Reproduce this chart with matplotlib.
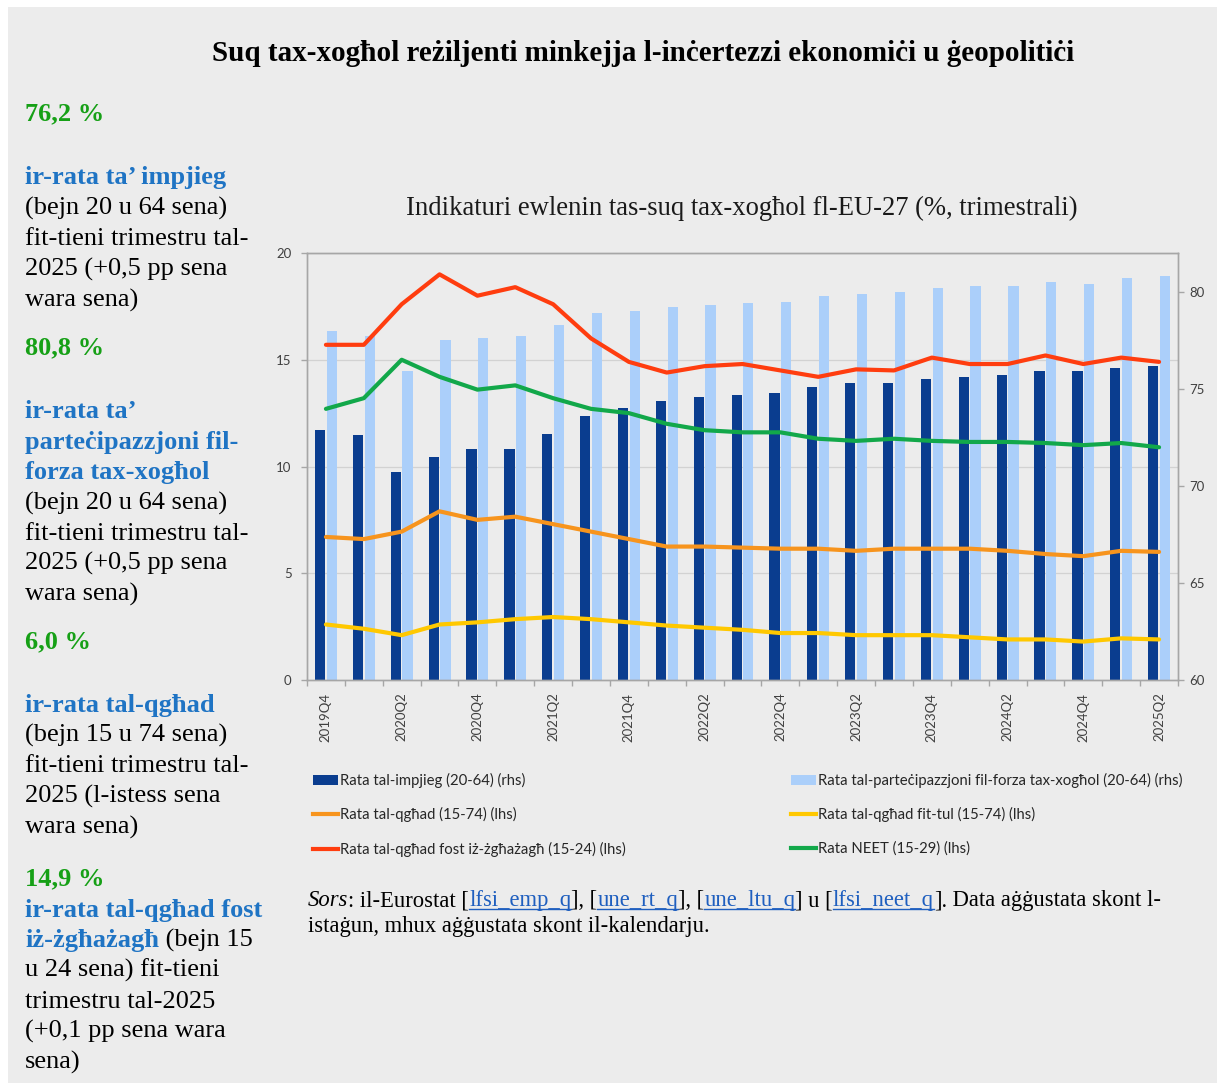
import matplotlib
matplotlib.use('Agg')
import matplotlib.pyplot as plt
from matplotlib.lines import Line2D
from matplotlib.patches import Patch, Rectangle
from matplotlib.transforms import blended_transform_factory
import numpy as np

# ---------------- data ----------------
quarters = ['2019Q4', '2020Q1', '2020Q2', '2020Q3', '2020Q4', '2021Q1', '2021Q2', '2021Q3',
            '2021Q4', '2022Q1', '2022Q2', '2022Q3', '2022Q4', '2023Q1', '2023Q2', '2023Q3',
            '2023Q4', '2024Q1', '2024Q2', '2024Q3', '2024Q4', '2025Q1', '2025Q2']
employment = [72.9, 72.6, 70.7, 71.5, 71.9, 71.9, 72.7, 73.6, 74.0, 74.4, 74.6, 74.7,
              74.8, 75.1, 75.3, 75.3, 75.5, 75.6, 75.7, 75.9, 75.9, 76.1, 76.2]
participation = [78.0, 77.7, 75.9, 77.5, 77.6, 77.7, 78.3, 78.9, 79.0, 79.2, 79.3, 79.4,
                 79.5, 79.8, 79.9, 80.0, 80.2, 80.3, 80.3, 80.5, 80.4, 80.7, 80.8]
unemployment = [6.7, 6.6, 6.95, 7.9, 7.5, 7.65, 7.3, 6.95, 6.6, 6.25, 6.25, 6.2,
                6.15, 6.15, 6.05, 6.15, 6.15, 6.15, 6.05, 5.9, 5.8, 6.05, 6.0]
long_term = [2.6, 2.4, 2.1, 2.6, 2.7, 2.85, 2.95, 2.85, 2.7, 2.55, 2.45, 2.35,
             2.2, 2.2, 2.1, 2.1, 2.1, 2.0, 1.9, 1.9, 1.8, 1.95, 1.9]
youth = [15.7, 15.7, 17.6, 19.0, 18.0, 18.4, 17.6, 16.0, 14.9, 14.4, 14.7, 14.8,
         14.5, 14.2, 14.55, 14.5, 15.1, 14.8, 14.8, 15.2, 14.8, 15.1, 14.9]
neet = [12.7, 13.2, 15.0, 14.2, 13.6, 13.8, 13.2, 12.7, 12.5, 12.0, 11.7, 11.6,
        11.6, 11.3, 11.2, 11.3, 11.2, 11.15, 11.15, 11.1, 11.0, 11.1, 10.9]

labels = ['Rata tal-impjieg (20-64) (rhs)',
          'Rata tal-qgħad (15-74) (lhs)',
          'Rata tal-qgħad fost iż-żgħażagħ (15-24) (lhs)',
          'Rata tal-parteċipazzjoni fil-forza tax-xogħol (20-64) (rhs)',
          'Rata tal-qgħad fit-tul (15-74) (lhs)',
          'Rata NEET (15-29) (lhs)']
left_ticks = [0, 5, 10, 15, 20]
right_ticks = [60, 65, 70, 75, 80]

title = 'Suq tax-xogħol reżiljenti minkejja l-inċertezzi ekonomiċi u ġeopolitiċi'
chart_title = 'Indikaturi ewlenin tas-suq tax-xogħol fl-EU-27 (%, trimestrali)'

# ---------------- styles ----------------
W, H = 1217, 1083
BG = '#ececec'
C_EMP = '#0a3d8f'
C_PART = '#abcffa'
C_UNEMP = '#f7941d'
C_LTU = '#ffc800'
C_YOUTH = '#ff3d0f'
C_NEET = '#12a84a'
GREEN = '#16a016'
BLUE = '#1f74c4'
SERIF = 'Liberation Serif'
SANS = 'Lato'

fig = plt.figure(figsize=(W / 100, H / 100), dpi=100, facecolor='white')
fig.patches.append(Rectangle((8 / W, 0), 1, 1 - 7 / H, transform=fig.transFigure,
                             facecolor=BG, edgecolor='none', zorder=-10))

def fx(x):
    return x / W

def fy(y):
    return 1 - y / H

# axes
rect = [fx(307), fy(680), (1178 - 307) / W, (680 - 253) / H]
ax_b = fig.add_axes(rect)          # bars, right scale
ax_l = ax_b.twinx()                 # lines, left scale
ax_l.yaxis.tick_left()
ax_l.yaxis.set_label_position('left')
ax_b.yaxis.tick_right()
ax_b.set_facecolor('none')
ax_l.set_facecolor('none')

x = np.arange(len(quarters))
bw = 0.27
ax_b.bar(x - 0.155, employment, width=bw, color=C_EMP, zorder=2)
ax_b.bar(x + 0.155, participation, width=bw, color=C_PART, zorder=2)
ax_b.set_ylim(60, 82)
ax_b.set_xlim(-0.5, len(quarters) - 0.5)
ax_l.set_ylim(0, 20)

# gridlines (left scale) behind bars
tr = blended_transform_factory(ax_b.transAxes, ax_l.transData)
for v in left_ticks[1:]:
    ax_b.plot([0, 1], [v, v], transform=tr, color='#d2d2d2', lw=0.9, zorder=0)

lw = 3.0
ax_l.plot(x, unemployment, color=C_UNEMP, lw=lw, solid_capstyle='round')
ax_l.plot(x, long_term, color=C_LTU, lw=lw, solid_capstyle='round')
ax_l.plot(x, youth, color=C_YOUTH, lw=lw, solid_capstyle='round')
ax_l.plot(x, neet, color=C_NEET, lw=lw, solid_capstyle='round')

tick_col = '#404040'
spine_col = '#a6a6a6'
ax_l.set_yticks(left_ticks)
ax_l.set_yticklabels([str(v) for v in left_ticks])
ax_b.set_yticks(right_ticks)
ax_b.set_yticklabels([str(v) for v in right_ticks])
for a in (ax_b, ax_l):
    for s in a.spines.values():
        s.set_color(spine_col)
        s.set_linewidth(1.0)
ax_l.tick_params(axis='y', labelsize=9.5, colors=tick_col, length=4, width=1.0, pad=7,
                 color=spine_col)
ax_b.tick_params(axis='y', labelsize=9.5, colors=tick_col, length=4, width=1.0, pad=4,
                 color=spine_col)
for t in ax_l.get_yticklabels() + ax_b.get_yticklabels():
    t.set_fontfamily(SANS)
    t.set_color(tick_col)

ax_b.set_xticks(x[::2])
ax_b.set_xticklabels(quarters[::2], rotation=90, fontfamily=SANS, fontsize=9.5, color=tick_col)
ax_b.set_xticks(np.arange(-0.5, len(quarters), 1), minor=True)
ax_b.tick_params(axis='x', which='major', length=0, pad=9)
ax_b.tick_params(axis='x', which='minor', length=4, width=1.0, color=spine_col)
ax_l.tick_params(axis='x', length=0)

# legend
handles = [Patch(facecolor=C_EMP, edgecolor='none'),
           Line2D([], [], color=C_UNEMP, lw=3),
           Line2D([], [], color=C_YOUTH, lw=3),
           Patch(facecolor=C_PART, edgecolor='none'),
           Line2D([], [], color=C_LTU, lw=3),
           Line2D([], [], color=C_NEET, lw=3)]
leg = ax_l.legend(handles, labels, ncol=2, mode='expand', loc='upper left',
                  bbox_to_anchor=(fx(313), fy(774), (1182 - 313) / W, 0.001),
                  bbox_transform=fig.transFigure, frameon=False,
                  prop={'family': SANS, 'size': 10.7}, handlelength=1.7, handleheight=0.7,
                  handletextpad=0.1, labelspacing=1.3, borderaxespad=0, borderpad=0)
for t in leg.get_texts():
    t.set_color('#262626')

# ---------------- texts ----------------
fig.text(fx(643), fy(61), title, ha='center', va='baseline', family=SERIF,
         fontweight='bold', fontsize=21, color='black')
fig.text(fx(742), fy(215), chart_title, ha='center', va='baseline', family=SERIF,
         fontsize=19.2, color='#1a1a1a')

renderer = fig.canvas.get_renderer()

def text_width(s, **kw):
    t1 = fig.text(0, 0, '|' + s + '|', **kw)
    w1 = t1.get_window_extent(renderer).width
    t1.remove()
    t2 = fig.text(0, 0, '||', **kw)
    w2 = t2.get_window_extent(renderer).width
    t2.remove()
    return w1 - w2

LP = 19  # left panel font size (pt)
base = dict(family=SERIF, fontsize=LP, color='black')
bold_g = dict(family=SERIF, fontsize=LP, color=GREEN, fontweight='bold')
bold_b = dict(family=SERIF, fontsize=LP, color=BLUE, fontweight='bold')

panel = [
    (120.7, [('76,2 %', bold_g)]),
    (184, [('ir-rata ta’ impjieg', bold_b)]),
    (215, [('(bejn 20 u 64 sena)', base)]),
    (245.5, [('fit-tieni trimestru tal-', base)]),
    (276, [('2025 (+0,5 pp sena', base)]),
    (306.5, [('wara sena)', base)]),
    (354.5, [('80,8 %', bold_g)]),
    (418.5, [('ir-rata ta’', bold_b)]),
    (449, [('parteċipazzjoni fil-', bold_b)]),
    (479.5, [('forza tax-xogħol', bold_b)]),
    (509.5, [('(bejn 20 u 64 sena)', base)]),
    (540, [('fit-tieni trimestru tal-', base)]),
    (570, [('2025 (+0,5 pp sena', base)]),
    (600.5, [('wara sena)', base)]),
    (648.5, [('6,0 %', bold_g)]),
    (712, [('ir-rata tal-qgħad', bold_b)]),
    (742, [('(bejn 15 u 74 sena)', base)]),
    (772.5, [('fit-tieni trimestru tal-', base)]),
    (803, [('2025 (l-istess sena', base)]),
    (833.5, [('wara sena)', base)]),
    (885, [('14,9 %', bold_g)]),
    (916.5, [('ir-rata tal-qgħad fost', bold_b)]),
    (946.5, [('iż-żgħażagħ', bold_b), (' (bejn 15', base)]),
    (977, [('u 24 sena) fit-tieni', base)]),
    (1007.5, [('trimestru tal-2025', base)]),
    (1038, [('(+0,1 pp sena wara', base)]),
    (1068.5, [('sena)', base)]),
]
for y, parts in panel:
    xc = 25
    for s, kw in parts:
        fig.text(fx(xc), fy(y), s, ha='left', va='baseline', **kw)
        xc += text_width(s, **kw)

# source note
SP = 16.3
src = dict(family=SERIF, fontsize=SP, color='black')
src_i = dict(family=SERIF, fontsize=SP, color='black', style='italic')
link = dict(family=SERIF, fontsize=SP, color='#1f5fbf')
line1 = [('Sors', src_i), (': il-Eurostat [', src), ('lfsi_emp_q', link), ('], [', src),
         ('une_rt_q', link), ('], [', src), ('une_ltu_q', link), ('] u [', src),
         ('lfsi_neet_q', link), ('].', src), (' Data aġġustata skont l-', src)]
xc = 308
yb = 906
for s, kw in line1:
    fig.text(fx(xc), fy(yb), s, ha='left', va='baseline', **kw)
    w = text_width(s, **kw)
    if kw is link:
        fig.lines.append(Line2D([fx(xc), fx(xc + w)], [fy(yb + 3), fy(yb + 3)],
                                transform=fig.transFigure, color='#1f5fbf', lw=1.0))
    xc += w
fig.text(fx(308), fy(932), 'istaġun, mhux aġġustata skont il-kalendarju.', ha='left',
         va='baseline', **src)

fig.savefig('out.png', dpi=100, facecolor=fig.get_facecolor())
